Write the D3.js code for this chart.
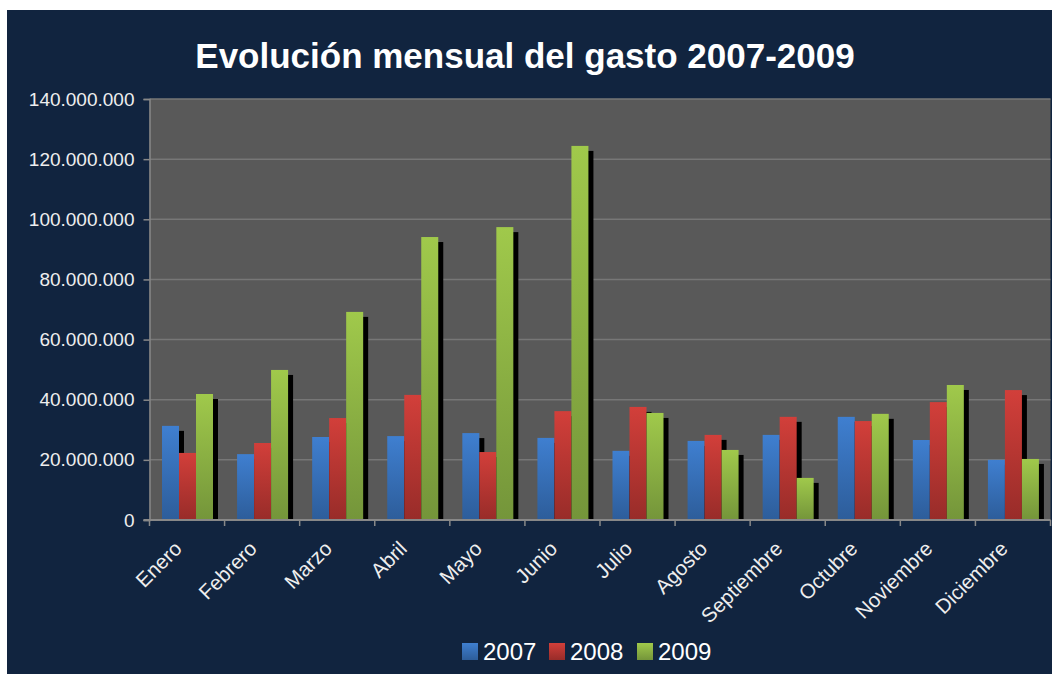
<!DOCTYPE html>
<html>
<head>
<meta charset="utf-8">
<script src="https://cdn.jsdelivr.net/npm/d3@7"></script>
<style>
  body { margin: 0; background: #fff; }
  text { font-family: "Liberation Sans", Arial, sans-serif; }
</style>
</head>
<body>
<svg></svg>
<script>
var width = 1052;
var height = 675;

var months = ["Enero", "Febrero", "Marzo", "Abril", "Mayo", "Junio",
              "Julio", "Agosto", "Septiembre", "Octubre", "Noviembre", "Diciembre"];
var years = ["2007", "2008", "2009"];

var gasto2007 = [31.3e6, 21.9e6, 27.6e6, 27.9e6, 28.9e6, 27.3e6, 23.0e6, 26.3e6, 28.3e6, 34.3e6, 26.6e6, 20.0e6];
var gasto2008 = [22.3e6, 25.6e6, 33.9e6, 41.6e6, 22.6e6, 36.2e6, 37.6e6, 28.3e6, 34.3e6, 32.9e6, 39.2e6, 43.2e6];
var gasto2009 = [41.9e6, 49.9e6, 69.2e6, 94.1e6, 97.4e6, 124.4e6, 35.6e6, 23.3e6, 14.0e6, 35.3e6, 44.9e6, 20.3e6];

var yTicks = [0, 20e6, 40e6, 60e6, 80e6, 100e6, 120e6, 140e6];

var seriesValues = [gasto2007, gasto2008, gasto2009];
var colors = [["#3f7fd0", "#2d5d9a"], ["#d23f3a", "#982c29"], ["#a0c94b", "#74953a"]];

var svg = d3.select("svg")
            .attr("width", width)
            .attr("height", height);

// fondo azul
svg.append("rect")
  .attr("x", 7).attr("y", 10)
  .attr("width", width - 7).attr("height", 664)
  .attr("fill", "#11243f");

var defs = svg.append("defs");
years.forEach(function(yr, i) {
  var g = defs.append("linearGradient")
    .attr("id", "grad" + i)
    .attr("x1", 0).attr("y1", 0).attr("x2", 0).attr("y2", 1);
  g.append("stop").attr("offset", "0%").attr("stop-color", colors[i][0]);
  g.append("stop").attr("offset", "100%").attr("stop-color", colors[i][1]);
});

var plotLeft = 149.5, plotRight = 1050.5, plotTop = 99, plotBottom = 520;

defs.append("clipPath").attr("id", "plotclip")
  .append("rect").attr("x", plotLeft).attr("y", plotTop)
  .attr("width", plotRight - plotLeft).attr("height", plotBottom - plotTop);

var x0 = d3.scaleBand().domain(months).range([plotLeft, plotRight]);
var x1 = d3.scaleBand().domain(years).range([12.5, 63.5]);
var y = d3.scaleLinear().domain([0, 140e6]).range([plotBottom, plotTop]);

var fmt = d3.formatLocale({decimal: ",", thousands: ".", grouping: [3], currency: ["", ""]}).format(",.0f");

// area del grafico
svg.append("rect")
  .attr("x", plotLeft).attr("y", plotTop)
  .attr("width", plotRight - plotLeft).attr("height", plotBottom - plotTop)
  .attr("fill", "#595959");

svg.append("g")
  .selectAll("line")
  .data(yTicks.slice(1))
  .enter()
  .append("line")
  .attr("x1", plotLeft).attr("x2", plotRight)
  .attr("y1", function(d) { return y(d); })
  .attr("y2", function(d) { return y(d); })
  .attr("stroke", "#777")
  .attr("stroke-width", 1.5);

var bars = [];
months.forEach(function(m, i) {
  years.forEach(function(yr, j) {
    bars.push({month: m, year: yr, s: j, value: seriesValues[j][i]});
  });
});

// sombras
svg.append("g")
  .attr("clip-path", "url(#plotclip)")
  .selectAll("rect")
  .data(bars)
  .enter()
  .append("rect")
  .attr("x", function(d) { return x0(d.month) + x1(d.year) + 5; })
  .attr("y", function(d) { return y(d.value) + 5; })
  .attr("width", x1.bandwidth())
  .attr("height", function(d) { return Math.max(0, plotBottom - y(d.value) - 5); })
  .attr("fill", "#000");

svg.append("g")
  .selectAll("rect")
  .data(bars)
  .enter()
  .append("rect")
  .attr("x", function(d) { return x0(d.month) + x1(d.year); })
  .attr("y", function(d) { return y(d.value); })
  .attr("width", x1.bandwidth())
  .attr("height", function(d) { return plotBottom - y(d.value); })
  .attr("fill", function(d) { return "url(#grad" + d.s + ")"; });

// ejes
var yAxis = svg.append("g")
  .attr("transform", "translate(" + plotLeft + ",0)")
  .call(d3.axisLeft(y).tickValues(yTicks).tickFormat(fmt).tickSize(6).tickPadding(9));
yAxis.select(".domain").attr("stroke", "#888").attr("stroke-width", 1.5);
yAxis.selectAll(".tick line").attr("stroke", "#888").attr("stroke-width", 1.5);
yAxis.selectAll("text")
  .attr("fill", "#eeeeee")
  .style("font-size", "19px")
  .style("font-family", "'Liberation Sans', Arial, sans-serif");

var xAxis = svg.append("g")
  .attr("transform", "translate(0," + plotBottom + ")")
  .call(d3.axisBottom(x0).tickSize(0).tickFormat(""));
xAxis.select(".domain").remove();
xAxis.selectAll(".tick").remove();

svg.append("line")
  .attr("x1", plotLeft - 6).attr("x2", plotRight)
  .attr("y1", plotBottom).attr("y2", plotBottom)
  .attr("stroke", "#888").attr("stroke-width", 2);

svg.append("g")
  .selectAll("line")
  .data(d3.range(months.length + 1))
  .enter()
  .append("line")
  .attr("x1", function(i) { return plotLeft + i * x0.bandwidth(); })
  .attr("x2", function(i) { return plotLeft + i * x0.bandwidth(); })
  .attr("y1", plotBottom).attr("y2", plotBottom + 6)
  .attr("stroke", "#888").attr("stroke-width", 1.5);

svg.append("g")
  .selectAll("text")
  .data(months)
  .enter()
  .append("text")
  .attr("transform", function(d) {
    return "translate(" + (x0(d) + x0.bandwidth() / 2 - 4) + "," + (plotBottom + 30) + ") rotate(-45)";
  })
  .attr("text-anchor", "end")
  .attr("fill", "#eeeeee")
  .style("font-size", "20.5px")
  .text(function(d) { return d; });

// titulo
svg.append("text")
  .attr("x", 525).attr("y", 68)
  .attr("text-anchor", "middle")
  .attr("fill", "#fff")
  .style("font-size", "35px")
  .style("font-weight", "bold")
  .text("Evolución mensual del gasto 2007-2009");

// leyenda
var legendX = [462, 549, 637];
var legend = svg.append("g")
  .selectAll("g")
  .data(years)
  .enter()
  .append("g")
  .attr("transform", function(d, i) { return "translate(" + legendX[i] + ",643)"; });
legend.append("rect")
  .attr("width", 16).attr("height", 17)
  .attr("fill", function(d, i) { return "url(#grad" + i + ")"; });
legend.append("text")
  .attr("x", 21).attr("y", 17)
  .attr("fill", "#fff")
  .style("font-size", "24px")
  .text(function(d) { return d; });
</script>
</body>
</html>
